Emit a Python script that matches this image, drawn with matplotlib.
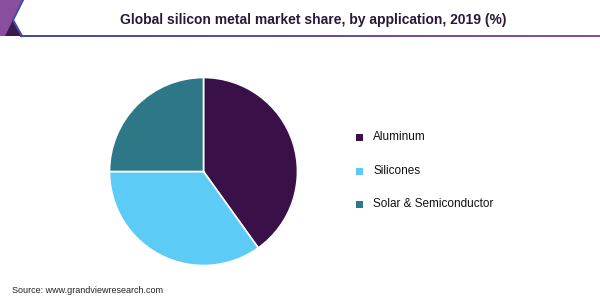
import matplotlib.pyplot as plt
import numpy as np
from matplotlib.patches import Polygon

labels = ['Aluminum', 'Silicones', 'Solar & Semiconductor']
shares = [40.1, 34.9, 25.0]
colors = ['#3a1048', '#5ccbf5', '#2e7787']

title = 'Global silicon metal market share, by application, 2019 (%)'
source = 'Source: www.grandviewresearch.com'

fig = plt.figure(figsize=(6, 3), dpi=100)
plt.rcParams['font.family'] = ['Liberation Sans', 'DejaVu Sans']

# header decoration, drawn in pixel coords
W, H = 600.0, 300.0
deco = fig.add_axes([0, 0, 1, 1])
deco.axis('off')
grad = np.linspace(0, 1, 256)[None, :, None]
c0 = np.array([0x3f, 0x4f, 0xa8]) / 255
c1 = np.array([0x8a, 0x4e, 0x9f]) / 255
deco.imshow(c0 * (1 - grad) + c1 * grad, extent=[20, 600, 37.5, 35.5], aspect='auto')
deco.add_patch(Polygon([(0, 0), (23, 0), (13, 20), (22, 36), (0, 36)], closed=True,
                       color='#8a4e9f', lw=0))
deco.add_patch(Polygon([(13, 20), (22, 36), (5, 36)], closed=True, color='#3d1a4e', lw=0))
deco.plot([23, 13, 22], [0, 20, 36], color='#3f4fa8', lw=1.5)
deco.set_xlim(0, W)
deco.set_ylim(H, 0)

fig.text(0.522, 0.933, title, ha='center', va='center', fontsize=10,
         fontweight='bold', color='#2b1838')
fig.text(0.02, 0.017, source, ha='left', va='bottom', fontsize=6.5, color='#222222')

ax = fig.add_axes([(203.5 - 94) / W, 1 - (171.5 + 94) / H, 188 / W, 188 / H])
ax.pie(shares, colors=colors, startangle=90, counterclock=False,
       wedgeprops=dict(edgecolor='white', linewidth=1.2))
ax.set_xlim(-1, 1)
ax.set_ylim(-1, 1)
ax.set_aspect('equal')

leg_y = [137, 171, 204]
for lab, col, y in zip(labels, colors, leg_y):
    deco.add_patch(plt.Rectangle((356, y - 3.5), 7, 7, color=col, lw=0))
    deco.text(373, y, lab, va='center', ha='left', fontsize=8.5, color='#111111')

fig.savefig('out.png', dpi=100)
